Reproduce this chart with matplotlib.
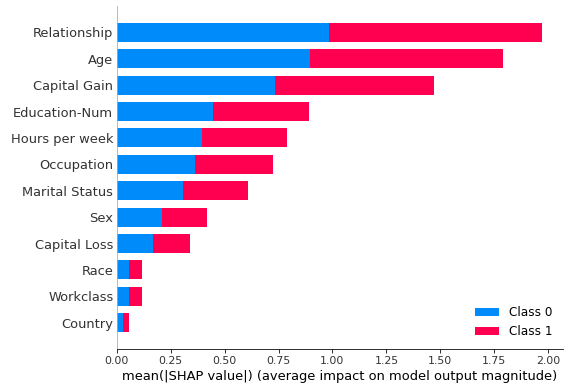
import matplotlib
matplotlib.use("Agg")
import matplotlib.pyplot as plt
import numpy as np

# features, most important on top
features = ['Relationship', 'Age', 'Capital Gain', 'Education-Num', 'Hours per week',
            'Occupation', 'Marital Status', 'Sex', 'Capital Loss', 'Race',
            'Workclass', 'Country']
class0 = [0.984, 0.896, 0.733, 0.445, 0.394, 0.362, 0.306, 0.209, 0.167, 0.056, 0.056, 0.028]
class1 = [0.988, 0.895, 0.738, 0.446, 0.395, 0.362, 0.302, 0.209, 0.172, 0.060, 0.060, 0.028]
class_names = ['Class 0', 'Class 1']

blue = '#008bfb'
red = '#ff0051'

# drawn at 72 dpi so the font sizes come out like the original
fig = plt.figure(figsize=(570 / 72, 390 / 72), dpi=72)
ax = fig.add_axes([0.205, 0.105, 0.783, 0.8795])

y = np.arange(len(features))[::-1]
ax.barh(y, class0, height=0.72, color=blue, label=class_names[0])
ax.barh(y, class1, height=0.72, left=class0, color=red, label=class_names[1])

ax.set_ylim(-1, len(features))
ax.set_xlim(0, 2.07)
ax.set_yticks(y)
ax.set_yticklabels(features, fontsize=13)
ax.set_xticks(np.arange(0, 2.01, 0.25))
ax.set_xticklabels(['%.2f' % v for v in np.arange(0, 2.01, 0.25)])
ax.tick_params('y', length=0, labelcolor='#333333')
ax.tick_params('x', labelsize=11, labelcolor='#333333')
ax.set_xlabel('mean(|SHAP value|) (average impact on model output magnitude)', fontsize=13)

ax.spines['top'].set_visible(False)
ax.spines['right'].set_visible(False)
ax.spines['left'].set_color('#aaaaaa')

ax.legend(frameon=False, fontsize=12, loc='lower right')

plt.savefig('out.png', dpi=72)
